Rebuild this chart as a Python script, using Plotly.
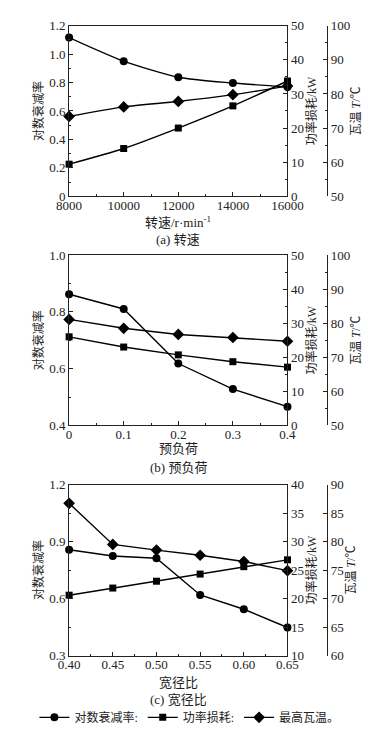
import plotly.graph_objects as go

# ---------------- data ----------------
# (a) speed
speed = [8000, 10000, 12000, 14000, 16000]
a_decay = [1.117, 0.951, 0.838, 0.797, 0.769]
a_power = [9.4, 14.0, 20.0, 26.5, 33.8]
a_temp = [73.4, 76.2, 77.8, 79.8, 82.3]

# (b) preload
preload = [0, 0.1, 0.2, 0.3, 0.4]
b_decay = [0.862, 0.810, 0.618, 0.528, 0.466]
b_power = [26.0, 23.0, 20.7, 18.7, 17.1]
b_temp = [81.1, 78.5, 76.7, 75.8, 74.7]

# (c) width-diameter ratio
ratio = [0.40, 0.45, 0.50, 0.55, 0.60, 0.65]
c_decay = [0.857, 0.824, 0.812, 0.619, 0.544, 0.448]
c_power = [20.6, 21.85, 23.05, 24.3, 25.6, 26.8]
c_temp = [86.7, 79.5, 78.5, 77.6, 76.5, 74.9]

# tick labels
a_xticks = [8000, 10000, 12000, 14000, 16000]
a_xlabels = ["8000", "10000", "12000", "14000", "16000"]
a_lticks = [0, 0.2, 0.4, 0.6, 0.8, 1.0, 1.2]
a_llabels = ["0", "0.2", "0.4", "0.6", "0.8", "1.0", "1.2"]
b_xticks = [0, 0.1, 0.2, 0.3, 0.4]
b_xlabels = ["0", "0.1", "0.2", "0.3", "0.4"]
b_lticks = [0.4, 0.6, 0.8, 1.0]
b_llabels = ["0.4", "0.6", "0.8", "1.0"]
c_xticks = [0.40, 0.45, 0.50, 0.55, 0.60, 0.65]
c_xlabels = ["0.40", "0.45", "0.50", "0.55", "0.60", "0.65"]
c_lticks = [0.3, 0.6, 0.9, 1.2]
c_llabels = ["0.3", "0.6", "0.9", "1.2"]

names = ["对数衰减率:", "功率损耗:", "最高瓦温。"]
symbols = ["circle", "square", "diamond"]
msizes = [8, 7, 9]

W, H = 388, 735
OFF = 8  # page body margin
FONT = '"Times New Roman", "Liberation Serif", "Noto Sans CJK SC", serif'
INK = "#222222"

def px_x(X):
    return (X - OFF) / W

def px_y(Y):
    return 1 - (Y - OFF) / H

x0, x1 = px_x(60), px_x(296)
tpos = px_x(339)

panels = [
    dict(x=speed, ys=[a_decay, a_power, a_temp], dom=(193, 19), shape="spline",
         xr=[8000, 16000], xt=(a_xticks, a_xlabels), xminor=1000,
         lr=[0, 1.2], lt=(a_lticks, a_llabels), lminor=0.1,
         pr=[0, 50], pd=10, pminor=5, tr=[50, 100], td=10, tminor=5,
         xtitle="转速/r·min<sup>-1</sup>", cap="(a) 转速", xt_y=219, cap_y=237),
    dict(x=preload, ys=[b_decay, b_power, b_temp], dom=(427, 253), shape="linear",
         xr=[0, 0.4], xt=(b_xticks, b_xlabels), xminor=0.05,
         lr=[0.4, 1.0], lt=(b_lticks, b_llabels), lminor=0.1,
         pr=[0, 50], pd=10, pminor=5, tr=[50, 100], td=10, tminor=5,
         xtitle="预负荷", cap="(b) 预负荷", xt_y=451, cap_y=470),
    dict(x=ratio, ys=[c_decay, c_power, c_temp], dom=(662, 487.3), shape="linear",
         xr=[0.40, 0.65], xt=(c_xticks, c_xlabels), xminor=0.025,
         lr=[0.3, 1.2], lt=(c_lticks, c_llabels), lminor=0.15,
         pr=[10, 40], pd=5, pminor=None, tr=[60, 90], td=5, tminor=None,
         xtitle="宽径比", cap="(c) 宽径比", xt_y=689, cap_y=707),
]

fig = go.Figure()
layout = dict(
    width=W, height=H, margin=dict(l=0, r=0, t=0, b=0),
    paper_bgcolor="white", plot_bgcolor="white",
    font=dict(family=FONT, size=13, color=INK),
    showlegend=True,
    legend=dict(orientation="h", x=px_x(190), xanchor="center", y=px_y(725), yanchor="middle",
                font=dict(size=12, family=FONT), itemwidth=30, tracegroupgap=0,
                bgcolor="rgba(0,0,0,0)"),
)
annotations = []

axis_common = dict(showgrid=False, zeroline=False, showline=True, linecolor=INK,
                   linewidth=1, tickcolor=INK, ticklen=4, tickfont=dict(size=13, color=INK))

for i, p in enumerate(panels):
    xn = "x" if i == 0 else f"x{i+1}"
    yl = 3 * i + 1
    yp = 3 * i + 2
    yt = 3 * i + 3
    yln = "y" if yl == 1 else f"y{yl}"
    ypn = f"y{yp}"
    ytn = f"y{yt}"
    dom = [px_y(p["dom"][0]), px_y(p["dom"][1])]

    layout["xaxis" if i == 0 else f"xaxis{i+1}"] = dict(
        axis_common, domain=[x0, x1], anchor=yln, range=p["xr"], mirror=True,
        ticks="inside", tickvals=p["xt"][0], ticktext=p["xt"][1], ticklabelstandoff=-3,
        minor=dict(dtick=p["xminor"], ticks="inside", ticklen=2, tickcolor=INK),
    )
    layout["yaxis" if yl == 1 else f"yaxis{yl}"] = dict(
        axis_common, domain=dom, anchor=xn, range=p["lr"], ticks="inside",
        tickvals=p["lt"][0], ticktext=p["lt"][1],
        minor=dict(dtick=p["lminor"], tick0=p["lr"][0], ticks="inside", ticklen=2, tickcolor=INK),
        title=dict(text="对数衰减率", font=dict(size=12), standoff=3),
    )
    pax = dict(
        axis_common, domain=dom, anchor=xn, overlaying=yln, side="right",
        range=p["pr"], dtick=p["pd"], tick0=p["pr"][0], ticks="inside",
        title=dict(text="功率损耗/kW", font=dict(size=12), standoff=3),
    )
    if p["pminor"]:
        pax["minor"] = dict(dtick=p["pminor"], ticks="inside", ticklen=2, tickcolor=INK)
    layout[f"yaxis{yp}"] = pax
    tax = dict(
        axis_common, domain=dom, anchor="free", overlaying=yln, side="right",
        position=tpos, range=p["tr"], dtick=p["td"], tick0=p["tr"][0], ticks="inside",
        title=dict(text="瓦温 <i>T</i>/℃", font=dict(size=12), standoff=2),
    )
    if p["tminor"]:
        tax["minor"] = dict(dtick=p["tminor"], ticks="inside", ticklen=2, tickcolor=INK)
    layout[f"yaxis{yt}"] = tax

    for k, (ys, yname) in enumerate(zip(p["ys"], [yln, ypn, ytn])):
        fig.add_trace(go.Scatter(
            x=p["x"], y=ys, xaxis=xn, yaxis=yname, mode="lines+markers",
            name=names[k], showlegend=(i == 2), cliponaxis=False,
            line=dict(color="black", width=1.4, shape=p["shape"], smoothing=0.7),
            marker=dict(symbol=symbols[k], size=msizes[k], color="black"),
        ))

    annotations.append(dict(text=p["xtitle"], x=(x0 + x1) / 2, y=px_y(p["xt_y"]), xref="paper",
                            yref="paper", showarrow=False, font=dict(size=13), yanchor="middle"))
    annotations.append(dict(text=p["cap"], x=(x0 + x1) / 2, y=px_y(p["cap_y"]), xref="paper",
                            yref="paper", showarrow=False, font=dict(size=13), yanchor="middle"))

layout["annotations"] = annotations
fig.update_layout(**layout)
fig.write_html("out.html")
